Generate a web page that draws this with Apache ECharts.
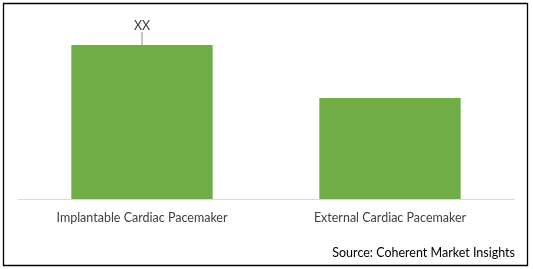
<!DOCTYPE html>
<html><head><meta charset="utf-8">
<script src="https://cdn.jsdelivr.net/npm/echarts@6/dist/echarts.min.js"></script>
<style>html,body{margin:0;padding:0;background:#fff}#c{width:533px;height:269px}</style>
</head><body><div id="c"></div>
<script>
const categories = ['Implantable Cardiac Pacemaker', 'External Cardiac Pacemaker'];
const values = [154, 101];
const valueLabels = ['XX', ''];
const sourceText = 'Source: Coherent Market Insights';

const chart = echarts.init(document.getElementById('c'), null, {renderer: 'canvas'});
const font = 'Lato, "Noto Sans", sans-serif';
chart.setOption({
  animation: false,
  grid: {left: 18, right: 19, top: 39, bottom: 70},
  xAxis: {
    type: 'category', data: categories,
    axisLine: {lineStyle: {color: '#d9d9d9', width: 1}},
    axisTick: {show: false},
    axisLabel: {color: '#404040', fontSize: 12.5, fontFamily: font, margin: 12}
  },
  yAxis: {type: 'value', min: 0, max: 160, show: false, splitLine: {show: false}},
  series: [{
    type: 'bar',
    barCategoryGap: '43%',
    itemStyle: {color: '#70ad47'},
    data: values.map((v, i) => ({
      value: v,
      label: {show: valueLabels[i] !== '', formatter: valueLabels[i], position: 'top', distance: 0,
              color: '#404040', fontSize: 12.5, fontFamily: font},
      labelLine: {show: valueLabels[i] !== '', lineStyle: {color: '#8c8c8c', width: 1}}
    })),
    labelLayout: {dy: -13},
  }],
  graphic: [
    {type: 'rect', shape: {x: 3.5, y: 3.5, width: 524, height: 262},
     style: {fill: 'none', stroke: '#000', lineWidth: 1.3}, silent: true},
    {type: 'text', right: 18, top: 246,
     style: {text: sourceText, fill: '#000', font: '12.5px ' + font}}
  ]
});
</script></body></html>
